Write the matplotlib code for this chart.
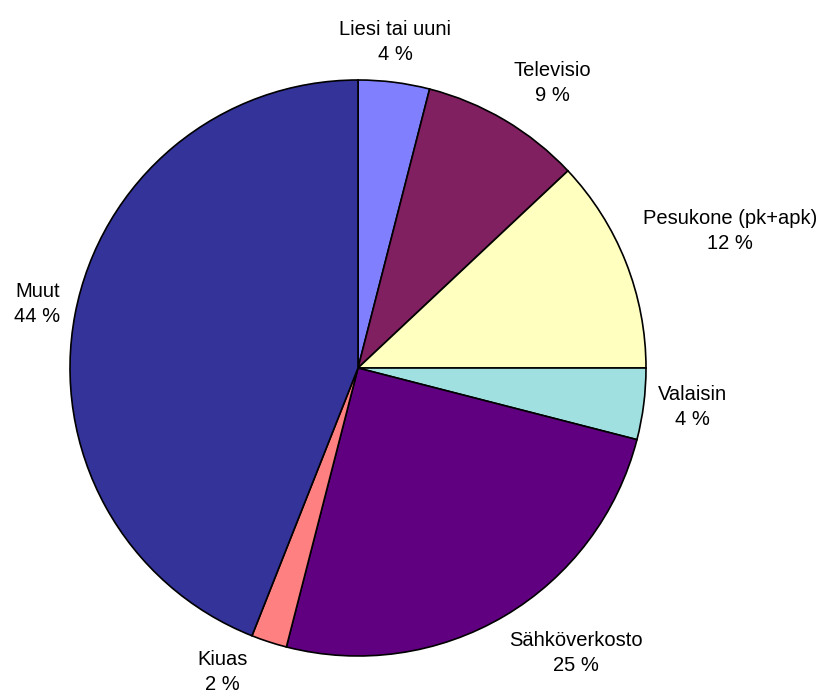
import numpy as np
import matplotlib
matplotlib.use('Agg')
import matplotlib.pyplot as plt

# energy use shares, clockwise from 12 o'clock
labels = ['Liesi tai uuni', 'Televisio', 'Pesukone (pk+apk)', 'Valaisin',
          'Sähköverkosto', 'Kiuas', 'Muut']
shares = [4, 9, 12, 4, 25, 2, 44]
colors = ['#8080FF', '#802060', '#FFFFC0', '#A0E0E0', '#600080', '#FF8080', '#333399']

# label placement tweaks: radial distance (in radii) and angle shift (deg, clockwise)
lab_dist = [1.14, 1.20, 1.375, 1.17, 1.245, 1.155, 1.135]
lab_shift = [-0.7, 3.7, 1.4, -0.6, -6.8, 6.0, 0.5]

W, H = 825, 695
fig = plt.figure(figsize=(W / 100, H / 100), dpi=100)
ax = fig.add_axes([0, 0, 1, 1])
ax.set_xlim(0, W)
ax.set_ylim(0, H)
ax.set_aspect('equal')
ax.axis('off')

cx, cy, r = 358, H - 368, 288
wedges, _ = ax.pie(shares, colors=colors, startangle=90, counterclock=False,
                   center=(cx, cy), radius=r, frame=True,
                   wedgeprops=dict(edgecolor='black', linewidth=1.2))
ax.set_xlim(0, W)
ax.set_ylim(0, H)
ax.axis('off')

for w, lab, val, d, s in zip(wedges, labels, shares, lab_dist, lab_shift):
    mid = np.deg2rad((w.theta1 + w.theta2) / 2 - s)
    x = cx + d * r * np.cos(mid)
    y = cy + d * r * np.sin(mid)
    ax.text(x, y, '%s\n%d %%' % (lab, val), ha='center', va='center',
            fontsize=14.5, family='Liberation Sans', linespacing=1.4)

fig.savefig('out.png', dpi=100)
